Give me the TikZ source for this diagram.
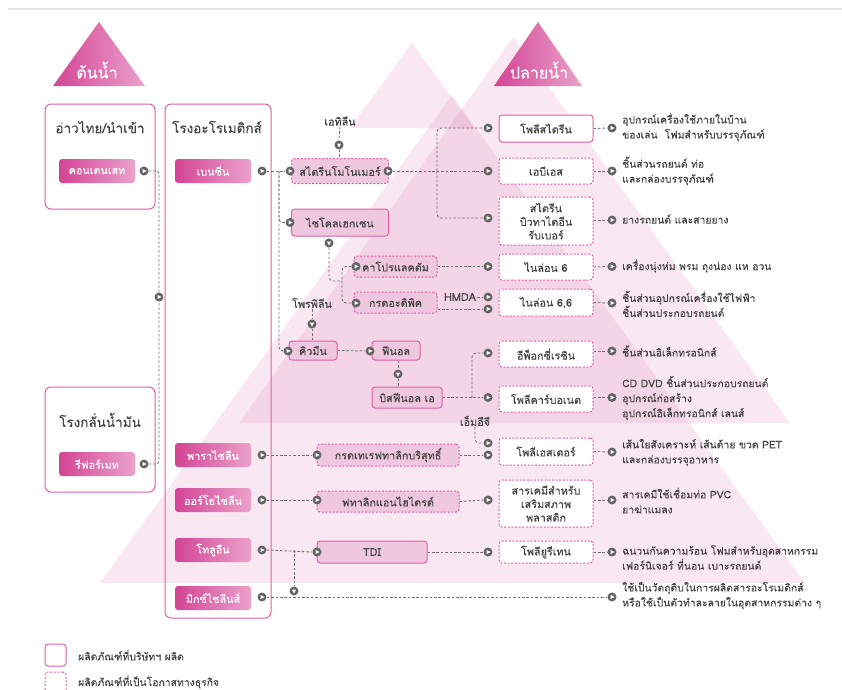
\documentclass[tikz,border=0pt]{standalone}
\usepackage{fontspec}
\setmainfont[Script=Thai,FakeBold=0.15]{Loma}
\usetikzlibrary{calc}

\definecolor{pinkline}{RGB}{224,96,164}
\definecolor{pinkdark}{RGB}{212,68,148}
\definecolor{pinklite}{RGB}{234,162,204}
\definecolor{pinkfill}{RGB}{239,200,223}
\definecolor{bgpink}{RGB}{214,92,162}
\definecolor{inkgray}{RGB}{68,68,68}
\definecolor{wiregray}{RGB}{115,115,115}
\definecolor{knobgray}{RGB}{100,100,100}
\definecolor{rulegray}{RGB}{226,226,226}

\newcommand\fsNode{\fontsize{10.8}{13.5}\selectfont}
\newcommand\fsTitle{\fontsize{13.5}{15}\selectfont}
\newcommand\fsHead{\fontsize{16}{18}\selectfont}
\newcommand\fsUse{\fontsize{10.4}{15}\selectfont}

\begin{document}
\begin{tikzpicture}[x=1pt,y=-1pt,
  hill/.style={fill=bgpink, fill opacity=0.14, draw=none},
  headtri/.style={left color=pinkdark, right color=pinklite, draw=none},
  outerbox/.style={draw=pinkline, line width=1pt, rounded corners=6pt, inner sep=0pt},
  title/.style={text=inkgray, font=\fsTitle, inner sep=0pt},
  srcbox/.style={rounded corners=3pt, left color=pinkdark, right color=pinklite, text=white,
    minimum width=76pt, minimum height=24pt, inner sep=0pt, font=\fsNode},
  midsolid/.style={draw=pinkline, line width=1pt, fill=pinkfill, rounded corners=3pt,
    inner sep=0pt, text=inkgray, font=\fsNode},
  middash/.style={midsolid, dash pattern=on 2pt off 1.6pt},
  prodsolid/.style={draw=pinkline, line width=1pt, fill=white, rounded corners=3pt,
    minimum width=94pt, inner sep=0pt, text=inkgray, font=\fsNode, align=center},
  proddash/.style={prodsolid, dash pattern=on 2pt off 1.6pt},
  wire/.style={draw=wiregray, line width=0.9pt, dash pattern=on 2.6pt off 1.8pt},
  knob/.style={circle, fill=knobgray, draw=none, inner sep=0pt, minimum size=9pt,
    path picture={\fill[white]
      ([shift={(#1:2.7pt)}]path picture bounding box.center) --
      ([shift={({#1+125}:2.5pt)}]path picture bounding box.center) --
      ([shift={({#1-125}:2.5pt)}]path picture bounding box.center) -- cycle;}},
  knob/.default=0,
  usetext/.style={anchor=west, text=inkgray, font=\fsUse, align=left, inner sep=0pt},
  lbl/.style={text=inkgray, font=\fsNode, inner sep=1pt}
]
\useasboundingbox (0,0) rectangle (842,689);

% ---------- background hills ----------
\fill[hill] (350,128) -- (412,43) -- (474,128) -- cycle;
\fill[hill] (239,423) -- (513,37) -- (790,423) -- cycle;
\fill[hill] (100,583) -- (452,95) -- (805,583) -- cycle;

% page rule
\draw[rulegray, line width=1.2pt] (8,9) -- (842,9);

% ---------- upstream / downstream headers ----------
\shade[headtri] (53,86) -- (99,22) -- (145,86) -- cycle;
\node[text=white, font=\fsHead, inner sep=0pt] (hUp) at (97,70) {ต้นน้ำ};
\shade[headtri] (494,86) -- (538,22) -- (582,86) -- cycle;
\node[text=white, font=\fsHead, inner sep=0pt] (hDown) at (539,70) {ปลายน้ำ};

% ---------- feed boxes ----------
\node[outerbox, minimum width=110pt, minimum height=105pt] (gulf) at (100,156.5) {};
\node[title] (gulfT) at (100,127) {อ่าวไทย/นำเข้า};
\node[srcbox] (cond) at (97,171) {คอนเดนเสท};

\node[outerbox, minimum width=110pt, minimum height=105pt] (refin) at (100,439.5) {};
\node[title] (refinT) at (100,420) {โรงกลั่นน้ำมัน};
\node[srcbox] (refm) at (97,464) {รีฟอร์เมท};

\node[outerbox, minimum width=106pt, minimum height=514pt] (arom) at (218,361) {};
\node[title] (aromT) at (217,127) {โรงอะโรเมติกส์};
\node[srcbox] (bz)  at (213,171) {เบนซีน};
\node[srcbox] (px)  at (213,455) {พาราไซลีน};
\node[srcbox] (ox)  at (213,500) {ออร์โธไซลีน};
\node[srcbox] (tol) at (213,550) {โทลูอีน};
\node[srcbox] (mx)  at (213,598) {มิกซ์ไซลีนส์};

% feed knobs
\node[knob] (kC) at (144,171) {};
\node[knob] (kR) at (144,464) {};
\node[knob] (kA) at (159,297) {};
\draw[wire, rounded corners=3pt] (kC.east) -| (kA.north);
\draw[wire, rounded corners=3pt] (kR.east) -| (kA.south);

% aromatics out knobs
\node[knob] (kBz)  at (262,171) {};
\node[knob] (kPX)  at (262,455) {};
\node[knob] (kOX)  at (262,500) {};
\node[knob] (kTol) at (262,550) {};
\node[knob] (kMX)  at (262,597) {};

% ---------- intermediates ----------
\node[lbl] (eth) at (340,121) {เอทิลีน};
\node[middash, minimum width=97pt, minimum height=25pt] (sm) at (340,171) {สไตรีนโมโนเมอร์};
\node[midsolid, minimum width=97pt, minimum height=27pt] (ch) at (340,222.5) {ไซโคลเฮกเซน};
\node[middash, minimum width=83pt, minimum height=21pt] (cap) at (395.5,266.5) {คาโปรแลคตัม};
\node[middash, minimum width=83pt, minimum height=21pt] (adi) at (395.5,302.5) {กรดอะดิพิค};
\node[lbl] (hmda) at (460,297) {HMDA};
\node[lbl] (prop) at (312,303) {โพรพิลีน};
\node[midsolid, minimum width=48pt, minimum height=19pt] (cum) at (313,350.5) {คิวมีน};
\node[midsolid, minimum width=48pt, minimum height=19pt] (phe) at (396,350.5) {ฟีนอล};
\node[midsolid, minimum width=70pt, minimum height=21pt] (bpa) at (407,397.5) {บิสฟีนอล เอ};
\node[lbl] (meg) at (475,421) {เอ็มอีจี};
\node[middash, minimum width=142pt, minimum height=22pt] (pta) at (388,455) {กรดเทเรฟทาลิกบริสุทธิ์};
\node[middash, minimum width=142pt, minimum height=21pt] (pa) at (388,501.5) {ฟทาลิกแอนไฮไดรด์};
\node[midsolid, minimum width=110pt, minimum height=22pt] (tdi) at (372,552) {TDI};

% knobs on intermediates
\node[knob] (kSMi) at (290,171) {};
\node[knob=-90] (kEth) at (339,145) {};
\node[knob] (kSMo) at (388,171) {};
\node[knob] (kCH) at (290,222.5) {};
\node[knob=-90] (kCHd) at (329,243) {};
\node[knob] (kCap) at (356,266.5) {};
\node[knob] (kAdi) at (356,303) {};
\node[knob=-90] (kProp) at (312,324) {};
\node[knob] (kCum) at (288,351) {};
\node[knob] (kPhe) at (370,351) {};
\node[knob=-90] (kPhed) at (398,374) {};
\node[knob] (kPTA) at (317,455) {};
\node[knob] (kPA) at (317,500) {};
\node[knob] (kTDI) at (317,552) {};
\node[knob=-90] (kTM) at (294,591) {};

% ---------- products ----------
\node[prodsolid, minimum height=27pt] (ps)  at (546,128.5) {โพลีสไตรีน};
\node[proddash, minimum height=26pt]  (abs) at (546,171) {เอบีเอส};
\node[proddash, minimum height=48pt]  (sbr) at (546,221) {สไตรีน\\บิวทาไดอีน\\รับเบอร์};
\node[proddash, minimum height=26pt]  (n6)  at (546,267) {ไนล่อน 6};
\node[proddash, minimum height=27pt]  (n66) at (546,302.5) {ไนล่อน 6,6};
\node[proddash, minimum height=26pt]  (ep)  at (546,354) {อีพ็อกซี่เรซิน};
\node[proddash, minimum height=26pt]  (pc)  at (546,399) {โพลีคาร์บอเนต};
\node[proddash, minimum height=27pt]  (pet) at (546,451.5) {โพลีเอสเตอร์};
\node[proddash, minimum height=47pt]  (plas) at (546,503.5) {สารเคมีสำหรับ\\เสริมสภาพ\\พลาสติก};
\node[proddash, minimum height=22pt]  (pu)  at (546,552) {โพลียูรีเทน};

% product in knobs
\node[knob] (qPS)   at (488,128) {};
\node[knob] (qABS)  at (488,171) {};
\node[knob] (qSBR)  at (488,218) {};
\node[knob] (qN6)   at (488,266.5) {};
\node[knob] (qN66a) at (488,297) {};
\node[knob] (qN66b) at (488,309) {};
\node[knob] (qEp)   at (488,353) {};
\node[knob] (qPC)   at (488,397.5) {};
\node[knob] (qPETa) at (488,443) {};
\node[knob] (qPETb) at (488,455) {};
\node[knob] (qPlas) at (488,500) {};
\node[knob] (qPU)   at (488,552) {};

% product out knobs
\node[knob] (rPS)   at (612,128) {};
\node[knob] (rABS)  at (612,171) {};
\node[knob] (rSBR)  at (612,220) {};
\node[knob] (rN6)   at (612,266.5) {};
\node[knob] (rN66)  at (612,303) {};
\node[knob] (rEp)   at (612,351) {};
\node[knob] (rPC)   at (612,397.5) {};
\node[knob] (rPET)  at (612,452) {};
\node[knob] (rPlas) at (612,500) {};
\node[knob] (rPU)   at (612,552) {};
\node[knob] (rMX)   at (612,597) {};

% ---------- end uses ----------
\node[usetext] (uPS)   at (622,127) {อุปกรณ์เครื่องใช้ภายในบ้าน\\ของเล่น\ \ โฟมสำหรับบรรจุภัณฑ์};
\node[usetext] (uABS)  at (622,171) {ชิ้นส่วนรถยนต์ ท่อ\\และกล่องบรรจุภัณฑ์};
\node[usetext] (uSBR)  at (622,219) {ยางรถยนต์ และสายยาง};
\node[usetext] (uN6)   at (622,266) {เครื่องนุ่งห่ม พรม ถุงน่อง แห อวน};
\node[usetext] (uN66)  at (622,304) {ชิ้นส่วนอุปกรณ์เครื่องใช้ไฟฟ้า\\ชิ้นส่วนประกอบรถยนต์};
\node[usetext] (uEp)   at (622,351) {ชิ้นส่วนอิเล็กทรอนิกส์};
\node[usetext] (uPC)   at (622,398) {CD DVD ชิ้นส่วนประกอบรถยนต์\\อุปกรณ์ก่อสร้าง\\อุปกรณ์อิเล็กทรอนิกส์ เลนส์};
\node[usetext] (uPET)  at (622,452.5) {เส้นใยสังเคราะห์ เส้นด้าย ขวด PET\\และกล่องบรรจุอาหาร};
\node[usetext] (uPlas) at (622,500.5) {สารเคมีใช้เชื่อมท่อ PVC\\ยาฆ่าแมลง};
\node[usetext] (uPU)   at (622,557.5) {ฉนวนกันความร้อน โฟมสำหรับอุตสาหกรรม\\เฟอร์นิเจอร์ ที่นอน เบาะรถยนต์};
\node[usetext] (uMX)   at (622,595.5) {ใช้เป็นวัตถุดิบในการผลิตสารอะโรเมติกส์\\หรือใช้เป็นตัวทำละลายในอุตสาหกรรมต่าง ๆ};

% ---------- connectors ----------
\coordinate (jB) at (279,171);
\coordinate (jS) at (437,171);
\coordinate (jC) at (342,281);
\coordinate (jP) at (472,397.5);
\coordinate (jT) at (294,550);

\draw[wire] (kBz.east) -- (kSMi.west);
\draw[wire, rounded corners=4pt] (jB) |- (kCum.west);
\draw[wire, rounded corners=4pt] (jB) |- (kCH.west);
\draw[wire] (eth.south) -- (kEth.north);
\draw[wire] (kEth.south) -- (sm.north -| kEth);
\draw[wire] (kSMo.east) -- (qABS.west);
\draw[wire, rounded corners=4pt] (jS) |- (qPS.west);
\draw[wire, rounded corners=4pt] (jS) |- (qSBR.west);
\draw[wire, rounded corners=4pt] (kCHd.south) |- (jC);
\draw[wire, rounded corners=4pt] (kCap.west) -| (jC) |- (kAdi.west);
\draw[wire] (cap.east) -- (qN6.west);
\draw[wire] (adi.east |- qN66b) -- (qN66b.west);
\draw[wire] (hmda.east) -- (qN66a.west);
\draw[wire] (prop.south) -- (kProp.north);
\draw[wire] (kProp.south) -- (cum.north -| kProp);
\draw[wire] (cum.east) -- (kPhe.west);
\draw[wire] (phe.south -| kPhed) -- (kPhed.north);
\draw[wire] (kPhed.south) -- (bpa.north -| kPhed);
\draw[wire] (bpa.east) -- (qPC.west);
\draw[wire, rounded corners=4pt] (jP) |- (qEp.west);
\draw[wire, rounded corners=4pt] (meg.south) |- (qPETa.west);
\draw[wire] (kPX.east) -- (kPTA.west);
\draw[wire] (pta.east) -- (qPETb.west);
\draw[wire] (kOX.east) -- (kPA.west);
\draw[wire] (pa.east) -- (qPlas.west);
\draw[wire] (kTol.east) -- (kTDI.west);
\draw[wire] (tdi.east) -- (qPU.west);
\draw[wire] (jT) -- (kTM.north);
\draw[wire] (kMX.east) -- (rMX.west);

\draw[wire] (ps.east) -- (rPS.west);
\draw[wire] (abs.east) -- (rABS.west);
\draw[wire] (sbr.east |- rSBR) -- (rSBR.west);
\draw[wire] (n6.east) -- (rN6.west);
\draw[wire] (n66.east) -- (rN66.west);
\draw[wire] (ep.east |- rEp) -- (rEp.west);
\draw[wire] (pc.east |- rPC) -- (rPC.west);
\draw[wire] (pet.east) -- (rPET.west);
\draw[wire] (plas.east |- rPlas) -- (rPlas.west);
\draw[wire] (pu.east) -- (rPU.west);

% ---------- legend ----------
\node[draw=pinkline, line width=1pt, rounded corners=3pt, minimum width=21pt, minimum height=22pt, inner sep=0pt] (legA) at (55.5,655) {};
\node[draw=pinkline, line width=1pt, rounded corners=3pt, dash pattern=on 2pt off 1.6pt, minimum width=21pt, minimum height=22pt, inner sep=0pt] (legB) at (55.5,683) {};
\node[usetext] (legAt) at (78,655) {ผลิตภัณฑ์ที่บริษัทฯ ผลิต};
\node[usetext] (legBt) at (78,682) {ผลิตภัณฑ์ที่เป็นโอกาสทางธุรกิจ};
\end{tikzpicture}
\end{document}
